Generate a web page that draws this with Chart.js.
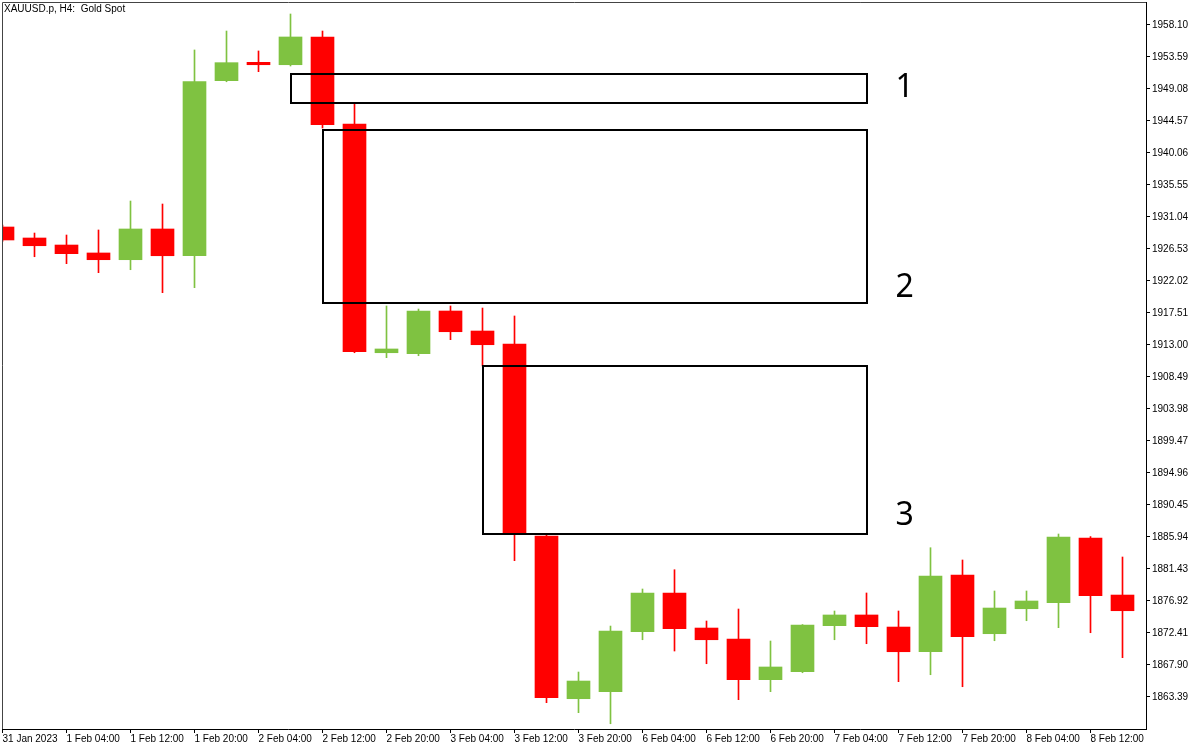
<!DOCTYPE html>
<html>
<head>
<meta charset="utf-8">
<title>XAUUSD.p, H4</title>
<script src="https://cdn.jsdelivr.net/npm/chart.js@4.4.1/dist/chart.umd.min.js"></script>
<style>
    html, body { margin: 0; padding: 0; background: #fff; }
    canvas { display: block; }
</style>
</head>
<body>
<canvas id="grafico" width="1200" height="750"></canvas>
<script>
const tituloGrafico = 'XAUUSD.p, H4:  Gold Spot';

// Velas H4 (una por cada 4 horas)
const horas = [
    '31 Jan 20:00', '1 Feb 00:00', '1 Feb 04:00', '1 Feb 08:00', '1 Feb 12:00', '1 Feb 16:00',
    '1 Feb 20:00', '2 Feb 00:00', '2 Feb 04:00', '2 Feb 08:00', '2 Feb 12:00', '2 Feb 16:00',
    '2 Feb 20:00', '3 Feb 00:00', '3 Feb 04:00', '3 Feb 08:00', '3 Feb 12:00', '3 Feb 16:00',
    '3 Feb 20:00', '6 Feb 00:00', '6 Feb 04:00', '6 Feb 08:00', '6 Feb 12:00', '6 Feb 16:00',
    '6 Feb 20:00', '7 Feb 00:00', '7 Feb 04:00', '7 Feb 08:00', '7 Feb 12:00', '7 Feb 16:00',
    '7 Feb 20:00', '8 Feb 00:00', '8 Feb 04:00', '8 Feb 08:00', '8 Feb 12:00', '8 Feb 16:00'
];
const apertura = [
    1929.63, 1928.08, 1927.09, 1925.97, 1925.02, 1929.35, 1925.58, 1950.25, 1952.84, 1952.50,
    1956.41, 1944.15, 1911.91, 1911.77, 1917.79, 1914.97, 1913.14, 1886.08, 1863.15, 1864.14,
    1872.59, 1878.05, 1873.11, 1871.56, 1865.83, 1866.95, 1873.44, 1874.95, 1873.25, 1869.77,
    1880.58, 1872.31, 1875.83, 1876.68, 1885.80, 1877.76
];
const maximo = [
    1929.90, 1928.78, 1928.50, 1929.21, 1933.29, 1932.87, 1954.58, 1957.25, 1954.44, 1959.65,
    1957.25, 1946.97, 1918.50, 1918.07, 1918.50, 1918.21, 1917.09, 1886.30, 1866.91, 1873.39,
    1878.61, 1881.33, 1874.10, 1875.79, 1871.28, 1873.60, 1875.51, 1878.05, 1875.51, 1884.43,
    1882.70, 1878.33, 1878.33, 1886.36, 1886.00, 1883.12
];
const minimo = [
    1927.60, 1925.44, 1924.46, 1923.19, 1923.61, 1920.37, 1921.08, 1950.10, 1951.52, 1952.32,
    1943.58, 1911.91, 1911.21, 1911.49, 1913.75, 1910.04, 1882.60, 1862.59, 1861.18, 1859.62,
    1871.46, 1869.87, 1868.08, 1863.01, 1864.14, 1866.81, 1871.46, 1870.90, 1865.55, 1866.53,
    1864.84, 1871.32, 1874.14, 1873.16, 1872.45, 1868.93
];
const cierre = [
    1927.80, 1926.99, 1925.87, 1925.02, 1929.35, 1925.58, 1950.11, 1952.79, 1952.50, 1956.41,
    1944.05, 1912.05, 1912.44, 1917.79, 1914.87, 1913.04, 1886.40, 1863.29, 1865.64, 1872.69,
    1878.05, 1873.01, 1871.46, 1865.83, 1867.62, 1873.54, 1874.95, 1873.30, 1869.77, 1880.44,
    1871.89, 1875.93, 1876.92, 1885.94, 1877.66, 1875.55
];

// Etiquetas de los ejes
const etiquetasX = [
    '31 Jan 2023', '1 Feb 04:00', '1 Feb 12:00', '1 Feb 20:00', '2 Feb 04:00', '2 Feb 12:00',
    '2 Feb 20:00', '3 Feb 04:00', '3 Feb 12:00', '3 Feb 20:00', '6 Feb 04:00', '6 Feb 12:00',
    '6 Feb 20:00', '7 Feb 04:00', '7 Feb 12:00', '7 Feb 20:00', '8 Feb 04:00', '8 Feb 12:00'
];
const preciosEje = [
    1863.39, 1867.90, 1872.41, 1876.92, 1881.43, 1885.94, 1890.45, 1894.96, 1899.47, 1903.98,
    1908.49, 1913.00, 1917.51, 1922.02, 1926.53, 1931.04, 1935.55, 1940.06, 1944.57, 1949.08,
    1953.59, 1958.10
];

// Zonas marcadas (rectángulos)
const zonasNombre = ['1', '2', '3'];
const zonasInicio = [9, 10, 15];
const zonasFin = [27, 27, 27];
const zonasArriba = [1951.19, 1943.30, 1910.04];
const zonasAbajo = [1947.11, 1918.92, 1886.36];
const zonasNombrePrecio = [1949.78, 1921.67, 1889.46];

const VERDE = '#7fc241';
const ROJO = '#ff0000';

document.addEventListener('DOMContentLoaded', () => {
    dibujarGrafico();
});

// Plugin para marco, zonas y título
const pluginZonas = {
    id: 'zonas',
    afterDatasetsDraw(chart) {
        const ctx = chart.ctx;
        const area = chart.chartArea;
        const x = chart.scales.x;
        const y = chart.scales.y;

        ctx.save();
        // marco superior e izquierdo
        ctx.strokeStyle = '#444';
        ctx.lineWidth = 1;
        ctx.beginPath();
        ctx.moveTo(area.left + 0.5, area.bottom);
        ctx.lineTo(area.left + 0.5, area.top + 0.5);
        ctx.lineTo(area.right, area.top + 0.5);
        ctx.stroke();

        // rectángulos
        ctx.strokeStyle = '#000';
        ctx.lineWidth = 2;
        zonasNombre.forEach((nombre, i) => {
            const x1 = Math.round(x.getPixelForValue(zonasInicio[i]));
            const x2 = Math.round(x.getPixelForValue(zonasFin[i]));
            const y1 = Math.round(y.getPixelForValue(zonasArriba[i]));
            const y2 = Math.round(y.getPixelForValue(zonasAbajo[i]));
            ctx.strokeRect(x1, y1, x2 - x1, y2 - y1);
        });

        // números de zona
        ctx.fillStyle = '#000';
        ctx.font = '32px "Noto Sans"';
        ctx.textAlign = 'left';
        ctx.textBaseline = 'middle';
        zonasNombre.forEach((nombre, i) => {
            ctx.fillText(nombre, x.getPixelForValue(zonasFin[i] + 1) - 3, y.getPixelForValue(zonasNombrePrecio[i]) + 4);
        });

        // título
        ctx.font = '10px "Liberation Sans"';
        ctx.fillText(tituloGrafico, area.left + 2, area.top + 7);
        ctx.restore();
    }
};

// Función para quitar el relleno automático de las etiquetas
function sinRelleno(scale) {
    scale.paddingTop = 0;
    scale.paddingBottom = 0;
    scale.paddingLeft = 0;
    scale.paddingRight = 0;
}

// Función para dibujar el gráfico de velas
function dibujarGrafico() {
    const indices = horas.map((_, i) => i);
    const colores = indices.map(i => cierre[i] >= apertura[i] ? VERDE : ROJO);

    new Chart(document.getElementById('grafico'), {
        type: 'bar',
        data: {
            datasets: [{
                label: 'Cuerpo',
                data: indices.map(i => ({ x: i, y: [apertura[i], cierre[i]] })),
                backgroundColor: colores,
                borderWidth: 0,
                barThickness: 23,
                grouped: false,
                minBarLength: 2
            }, {
                label: 'Mecha',
                data: indices.map(i => ({ x: i, y: [minimo[i], maximo[i]] })),
                backgroundColor: colores,
                borderWidth: 0,
                barThickness: 1,
                grouped: false
            }]
        },
        options: {
            responsive: false,
            animation: false,
            devicePixelRatio: 1,
            layout: { padding: { left: 2, top: 2, right: 0, bottom: 0 } },
            plugins: {
                legend: { display: false },
                tooltip: { enabled: false }
            },
            scales: {
                x: {
                    type: 'linear',
                    offset: false,
                    min: -0.015625,
                    max: 35.734375,
                    afterBuildTicks: (scale) => {
                        scale.ticks = etiquetasX.map((_, k) => ({ value: k * 2 }));
                    },
                    afterFit: (scale) => { scale.height = 21; sinRelleno(scale); },
                    grid: { offset: false, drawOnChartArea: false, drawTicks: true, tickLength: 4, color: '#000' },
                    border: { display: true, color: '#000' },
                    ticks: {
                        autoSkip: false,
                        maxRotation: 0,
                        minRotation: 0,
                        align: 'start',
                        padding: 0,
                        color: '#000',
                        font: { family: 'Liberation Sans', size: 10 },
                        callback: (valor) => etiquetasX[Math.round(valor / 2)]
                    }
                },
                y: {
                    position: 'right',
                    min: 1858.88,
                    max: 1961.34,
                    afterBuildTicks: (scale) => {
                        scale.ticks = preciosEje.map(v => ({ value: v }));
                    },
                    afterFit: (scale) => { scale.width = 54; sinRelleno(scale); },
                    grid: { drawOnChartArea: false, drawTicks: true, tickLength: 4, color: '#000' },
                    border: { display: true, color: '#000' },
                    ticks: {
                        padding: 2,
                        color: '#000',
                        font: { family: 'Liberation Sans', size: 10 },
                        callback: (valor) => valor.toFixed(2)
                    }
                }
            }
        },
        plugins: [pluginZonas]
    });
}
</script>
</body>
</html>
